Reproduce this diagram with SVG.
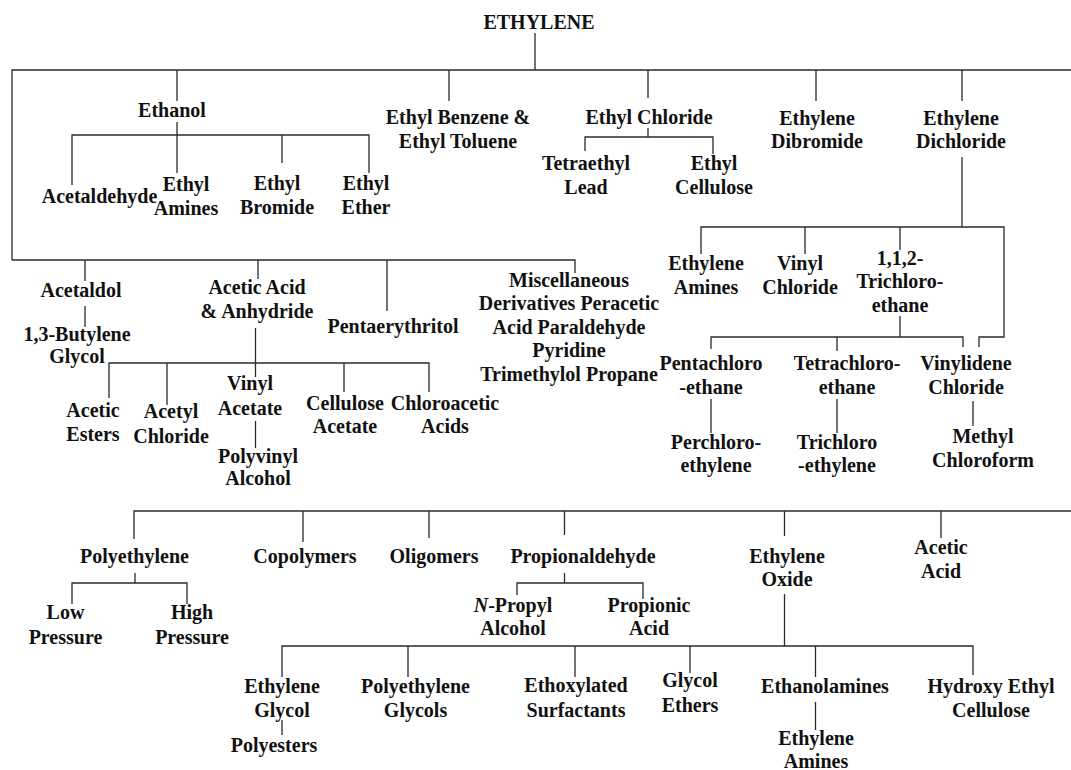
<svg xmlns="http://www.w3.org/2000/svg" width="1071" height="770" viewBox="0 0 1071 770">
  <style>
    .bg { fill: #ffffff; }
    .wire { fill: none; stroke: #2a2a2a; stroke-width: 1.3; }
    text { font-family: "Liberation Serif", "Times New Roman", serif; font-weight: bold; font-size: 20px; fill: #111111; text-anchor: middle; }
    .it { font-style: italic; }
  </style>
  <rect class="bg" x="0" y="0" width="1071" height="770"/>

  <!-- tree connectors -->
  <g id="connectors" class="wire">
    <!-- root and upper bus -->
    <path d="M535,33 V70"/>
    <path d="M12,260 V70 H1071"/>
    <path d="M177,70 V101 M449,70 V101 M648,70 V98 M816,70 V101 M962,70 V101"/>
    <!-- ethanol branch -->
    <path d="M177,122 V173"/>
    <path d="M72,185 V135 H369 V173 M282,135 V163"/>
    <!-- ethyl chloride branch -->
    <path d="M648,128 V137"/>
    <path d="M585,151 V137 H713 V154"/>
    <!-- ethylene dichloride branch -->
    <path d="M962,157 V227"/>
    <path d="M701,254 V227 H1004 V337 H979 V347 M805,227 V254 M900,227 V250"/>
    <path d="M900,316 V337"/>
    <path d="M711,349 V337 H963 V347 M837,337 V351"/>
    <path d="M711,399 V433 M837,399 V433 M973,401 V426"/>
    <!-- middle bus -->
    <path d="M12,260 H575 V273"/>
    <path d="M85,260 V281 M258,260 V279 M387,260 V311"/>
    <path d="M85,306 V327"/>
    <!-- acetic acid branch -->
    <path d="M255.5,328 V377"/>
    <path d="M109,398 V363 H429 V392 M167,363 V405 M344,363 V392"/>
    <path d="M255.5,421 V448"/>
    <!-- lower bus -->
    <path d="M134,539 V511 H1071"/>
    <path d="M303,511 V542 M429,511 V538 M564.5,511 V535 M784.5,511 V536 M941,511 V538"/>
    <!-- polyethylene branch -->
    <path d="M135,573 V583"/>
    <path d="M72,604 V583 H187 V604"/>
    <!-- propionaldehyde branch -->
    <path d="M564.5,573 V583"/>
    <path d="M517,595 V583 H643 V599"/>
    <!-- ethylene oxide branch -->
    <path d="M784.5,594 V646"/>
    <path d="M282,677 V646 H973 V675 M408,646 V677 M575,646 V677 M690,646 V673 M815.5,646 V677"/>
    <path d="M282,720 V735"/>
    <path d="M815.5,702 V730"/>
  </g>

  <g id="ethylene"><text x="539" y="29">ETHYLENE</text></g>

  <!-- first tier -->
  <g id="ethanol"><text x="172" y="117">Ethanol</text></g>
  <g id="ethyl-benzene"><text x="458" y="124">Ethyl Benzene &amp;</text><text x="458" y="148">Ethyl Toluene</text></g>
  <g id="ethyl-chloride"><text x="649" y="124">Ethyl Chloride</text></g>
  <g id="ethylene-dibromide"><text x="817" y="125">Ethylene</text><text x="817" y="148">Dibromide</text></g>
  <g id="ethylene-dichloride"><text x="961" y="125">Ethylene</text><text x="961" y="148">Dichloride</text></g>

  <!-- ethanol products -->
  <g id="acetaldehyde"><text x="99.5" y="203">Acetaldehyde</text></g>
  <g id="ethyl-amines"><text x="186" y="191">Ethyl</text><text x="186" y="215">Amines</text></g>
  <g id="ethyl-bromide"><text x="277" y="190">Ethyl</text><text x="277" y="214">Bromide</text></g>
  <g id="ethyl-ether"><text x="366" y="190">Ethyl</text><text x="366" y="214">Ether</text></g>

  <!-- ethyl chloride products -->
  <g id="tetraethyl-lead"><text x="586" y="170">Tetraethyl</text><text x="586" y="194">Lead</text></g>
  <g id="ethyl-cellulose"><text x="714" y="170">Ethyl</text><text x="714" y="194">Cellulose</text></g>

  <!-- ethylene dichloride products -->
  <g id="ethylene-amines-1"><text x="706" y="270">Ethylene</text><text x="706" y="294">Amines</text></g>
  <g id="vinyl-chloride"><text x="800" y="270">Vinyl</text><text x="800" y="294">Chloride</text></g>
  <g id="trichloroethane"><text x="900" y="265">1,1,2-</text><text x="900" y="288">Trichloro-</text><text x="900" y="312">ethane</text></g>
  <g id="pentachloroethane"><text x="711" y="370">Pentachloro</text><text x="711" y="394">-ethane</text></g>
  <g id="tetrachloroethane"><text x="847" y="370">Tetrachloro-</text><text x="847" y="394">ethane</text></g>
  <g id="vinylidene-chloride"><text x="966" y="370">Vinylidene</text><text x="966" y="394">Chloride</text></g>
  <g id="perchloroethylene"><text x="716" y="449">Perchloro-</text><text x="716" y="472">ethylene</text></g>
  <g id="trichloroethylene"><text x="837" y="449">Trichloro</text><text x="837" y="472">-ethylene</text></g>
  <g id="methyl-chloroform"><text x="983" y="443">Methyl</text><text x="983" y="467">Chloroform</text></g>

  <!-- second tier -->
  <g id="acetaldol"><text x="81" y="297">Acetaldol</text></g>
  <g id="butylene-glycol"><text x="77" y="341">1,3-Butylene</text><text x="77" y="363">Glycol</text></g>
  <g id="acetic-anhydride"><text x="257" y="294">Acetic Acid</text><text x="257" y="318">&amp; Anhydride</text></g>
  <g id="pentaerythritol"><text x="393" y="333">Pentaerythritol</text></g>
  <g id="miscellaneous">
    <text x="569" y="287">Miscellaneous</text>
    <text x="569" y="310">Derivatives Peracetic</text>
    <text x="569" y="334">Acid Paraldehyde</text>
    <text x="569" y="357">Pyridine</text>
    <text x="569" y="381">Trimethylol Propane</text>
  </g>

  <!-- acetic acid products -->
  <g id="acetic-esters"><text x="93" y="417">Acetic</text><text x="93" y="441">Esters</text></g>
  <g id="acetyl-chloride"><text x="171" y="418">Acetyl</text><text x="171" y="443">Chloride</text></g>
  <g id="vinyl-acetate"><text x="250" y="390">Vinyl</text><text x="250" y="415">Acetate</text></g>
  <g id="polyvinyl-alcohol"><text x="258" y="463">Polyvinyl</text><text x="258" y="485">Alcohol</text></g>
  <g id="cellulose-acetate"><text x="345" y="410">Cellulose</text><text x="345" y="433">Acetate</text></g>
  <g id="chloroacetic-acids"><text x="445" y="410">Chloroacetic</text><text x="445" y="433">Acids</text></g>

  <!-- third tier -->
  <g id="polyethylene"><text x="134.5" y="563">Polyethylene</text></g>
  <g id="copolymers"><text x="305" y="563">Copolymers</text></g>
  <g id="oligomers"><text x="434" y="563">Oligomers</text></g>
  <g id="propionaldehyde"><text x="583" y="563">Propionaldehyde</text></g>
  <g id="ethylene-oxide"><text x="787" y="563">Ethylene</text><text x="787" y="586">Oxide</text></g>
  <g id="acetic-acid"><text x="941" y="554">Acetic</text><text x="941" y="578">Acid</text></g>

  <g id="low-pressure"><text x="65.5" y="619">Low</text><text x="65.5" y="644">Pressure</text></g>
  <g id="high-pressure"><text x="192" y="619">High</text><text x="192" y="644">Pressure</text></g>
  <g id="n-propyl-alcohol"><text x="513" y="612"><tspan class="it">N</tspan>-Propyl</text><text x="513" y="635">Alcohol</text></g>
  <g id="propionic-acid"><text x="649" y="612">Propionic</text><text x="649" y="635">Acid</text></g>

  <!-- ethylene oxide products -->
  <g id="ethylene-glycol"><text x="282" y="693">Ethylene</text><text x="282" y="717">Glycol</text></g>
  <g id="polyesters"><text x="274" y="752">Polyesters</text></g>
  <g id="polyethylene-glycols"><text x="415.5" y="693">Polyethylene</text><text x="415.5" y="717">Glycols</text></g>
  <g id="ethoxylated-surfactants"><text x="576" y="692">Ethoxylated</text><text x="576" y="717">Surfactants</text></g>
  <g id="glycol-ethers"><text x="690" y="687">Glycol</text><text x="690" y="712">Ethers</text></g>
  <g id="ethanolamines"><text x="825" y="693">Ethanolamines</text></g>
  <g id="ethylene-amines-2"><text x="816" y="745">Ethylene</text><text x="816" y="768">Amines</text></g>
  <g id="hydroxyethyl-cellulose"><text x="991" y="693">Hydroxy Ethyl</text><text x="991" y="717">Cellulose</text></g>
</svg>
